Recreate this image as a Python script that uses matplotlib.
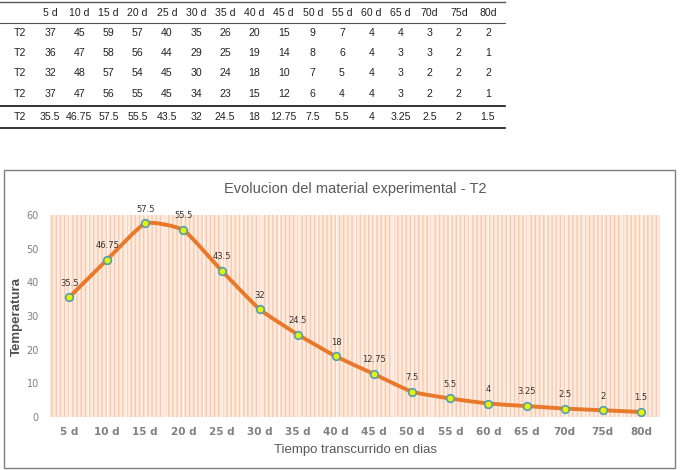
import numpy as np
import matplotlib.pyplot as plt
from matplotlib.path import Path
from matplotlib.patches import PathPatch, Rectangle
from matplotlib.lines import Line2D

days = ["5 d", "10 d", "15 d", "20 d", "25 d", "30 d", "35 d", "40 d",
        "45 d", "50 d", "55 d", "60 d", "65 d", "70d", "75d", "80d"]
rep1 = [37, 45, 59, 57, 40, 35, 26, 20, 15, 9, 7, 4, 4, 3, 2, 2]
rep2 = [36, 47, 58, 56, 44, 29, 25, 19, 14, 8, 6, 4, 3, 3, 2, 1]
rep3 = [32, 48, 57, 54, 45, 30, 24, 18, 10, 7, 5, 4, 3, 2, 2, 2]
rep4 = [37, 47, 56, 55, 45, 34, 23, 15, 12, 6, 4, 4, 3, 2, 2, 1]
mean = [35.5, 46.75, 57.5, 55.5, 43.5, 32, 24.5, 18, 12.75, 7.5, 5.5, 4, 3.25, 2.5, 2, 1.5]
row_label = "T2"

W, H = 681, 470
fig = plt.figure(figsize=(W / 100, H / 100), dpi=100)

def fx(px):
    return px / W

def fy(py):
    return 1 - py / H

# ---- table on top ----
tkw = dict(ha='center', va='center', fontsize=7.6, family=['Liberation Sans', 'DejaVu Sans'], color='#222222')
col_x = [50 + 29.2 * i for i in range(len(days))]
rows_y = [33, 53, 73, 94]
for x, d in zip(col_x, days):
    fig.text(fx(x), fy(13), d, **tkw)
for y, r in zip(rows_y, [rep1, rep2, rep3, rep4]):
    fig.text(fx(20), fy(y), row_label, **tkw)
    for x, v in zip(col_x, r):
        fig.text(fx(x), fy(y), str(v), **tkw)
fig.text(fx(20), fy(117), row_label, **tkw)
for x, v in zip(col_x, mean):
    fig.text(fx(x), fy(117), f"{v:g}", **tkw)

for y, lw, c in [(2, 1.0, '#555555'), (23, 0.8, '#555555'), (106, 1.2, '#111111'), (128, 1.2, '#111111')]:
    fig.add_artist(Line2D([0, fx(505)], [fy(y), fy(y)], lw=lw, color=c, transform=fig.transFigure))

# ---- chart box ----
fig.add_artist(Rectangle((fx(4), fy(468)), fx(675) - fx(4), fy(170) - fy(468),
                         transform=fig.transFigure, fill=False, edgecolor='#7f7f7f', lw=1))

ax = fig.add_axes([fx(50), fy(417), fx(660) - fx(50), fy(215) - fy(417)])
x = np.arange(len(days))
ax.set_xlim(-0.5, len(days) - 0.5)
ax.set_ylim(0, 60)

# textured peach background
ax.add_patch(Rectangle((-0.5, 0), len(days), 60, facecolor='#fdebe0', edgecolor='#f6c9ad',
                       hatch='||||', lw=0, zorder=0))
for xv in np.arange(-0.5, len(days) - 0.5, 0.5):
    ax.axvline(xv + 0.5, color='white', lw=0.8, alpha=0.7, zorder=0.5)

# smoothed line (mild Catmull-Rom as cubic Bezier)
pts = np.column_stack([x, mean]).astype(float)
verts = [tuple(pts[0])]
codes = [Path.MOVETO]
k = 1 / 12
for i in range(len(pts) - 1):
    p0 = pts[i - 1] if i > 0 else pts[i]
    p1, p2 = pts[i], pts[i + 1]
    p3 = pts[i + 2] if i + 2 < len(pts) else pts[i + 1]
    c1 = p1 + (p2 - p0) * k
    c2 = p2 - (p3 - p1) * k
    verts += [tuple(c1), tuple(c2), tuple(p2)]
    codes += [Path.CURVE4] * 3
ax.add_patch(PathPatch(Path(verts, codes), fill=False, edgecolor='#e8782a', lw=2.8,
                       capstyle='round', joinstyle='round', zorder=2))
ax.plot(x, mean, ls='none', marker='o', ms=5.5, mfc='#e8f200', mec='#4f9fb8', mew=1.2, zorder=3)

for xi, v in zip(x, mean):
    ax.annotate(f"{v:g}", (xi, v), xytext=(0, 7), textcoords='offset points',
                ha='center', va='bottom', fontsize=6, color='#333333', zorder=4)

ax.set_xticks(x)
ax.set_xticklabels(days, fontsize=7.5, fontweight='bold', color='#808080')
ax.set_yticks(range(0, 61, 10))
ax.tick_params(axis='y', labelsize=7, labelcolor='#808080', length=0, pad=8)
ax.tick_params(axis='x', length=0, pad=7)
for s in ax.spines.values():
    s.set_visible(False)

fig.text(fx(355), fy(189), "Evolucion del material experimental - T2", ha='center', va='center',
         fontsize=10.5, color='#595959', family=['Liberation Sans', 'DejaVu Sans'])
fig.text(fx(355), fy(450), "Tiempo transcurrido en dias", ha='center', va='center',
         fontsize=9.5, color='#595959', family=['Liberation Sans', 'DejaVu Sans'])
fig.text(fx(17), fy(316), "Temperatura", ha='center', va='center', rotation=90,
         fontsize=9.5, fontweight='bold', color='#505050', family=['Liberation Sans', 'DejaVu Sans'])

fig.savefig("out.png", dpi=100)
